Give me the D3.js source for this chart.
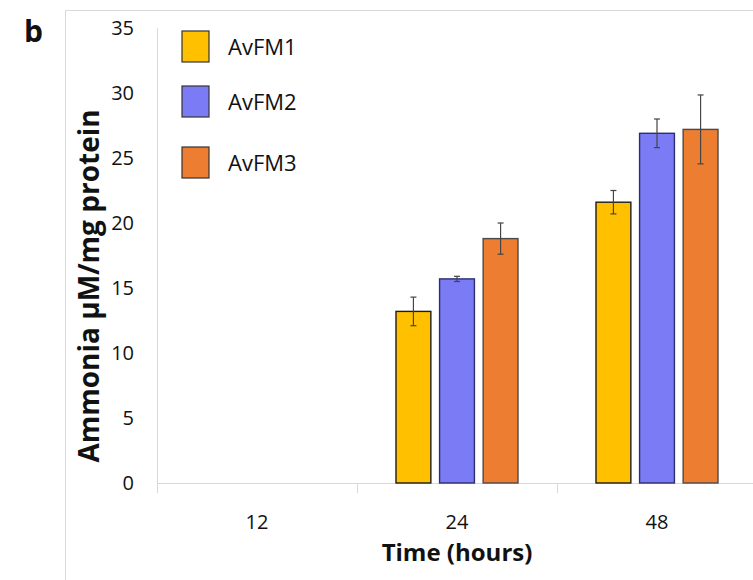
<!DOCTYPE html>
<html>
<head>
<meta charset="utf-8">
<script src="https://cdn.jsdelivr.net/npm/d3@7"></script>
<style>
  body { margin: 0; background: #fff; }
  svg text { font-family: "Open Sans", sans-serif; fill: #111; }
</style>
</head>
<body>
<div id="chart"></div>
<script>
// data
const hours = ["12", "24", "48"];
const series = ["AvFM1", "AvFM2", "AvFM3"];
const avfm1 = [0, 13.2, 21.6];
const avfm2 = [0, 15.7, 26.9];
const avfm3 = [0, 18.8, 27.2];
const err1 = [0, 1.1, 0.9];
const err2 = [0, 0.2, 1.1];
const err3 = [0, 1.2, 2.65];
const yTicks = [0, 5, 10, 15, 20, 25, 30, 35];

const fills = ["#FFC000", "#7B7BF6", "#ED7D31"],
  strokes = ["#1c1c1c", "#2b2f70", "#4a4a4a"];

const W = 753, H = 580;
const svg = d3.select("#chart").append("svg")
  .attr("width", W).attr("height", H);

// outer frame (only top and left visible)
svg.append("path")
  .attr("d", "M65.5,580 L65.5,10.5 L753,10.5")
  .attr("fill", "none").attr("stroke", "#d9d9d9").attr("stroke-width", 1);

svg.append("text").attr("x", 24).attr("y", 42)
  .style("font-size", "30px").style("font-weight", "bold").text("b");

const pL = 157, pR = 757, pT = 28, pB = 483;

const y = d3.scaleLinear().domain([0, 35]).range([pB, pT]);
const x0 = d3.scaleBand().domain(hours).range([pL, pR]);
const x1 = d3.scaleBand().domain(series).range([39, 161]).paddingInner(0.2);

// y axis
svg.append("line").attr("x1", pL + 0.5).attr("x2", pL + 0.5)
  .attr("y1", pT).attr("y2", pB + 10)
  .attr("stroke", "#d9d9d9");
svg.selectAll(".ytl").data(yTicks).enter().append("text")
  .attr("class", "ytl")
  .attr("x", 134).attr("y", d => y(d)).attr("dy", "0.35em")
  .attr("text-anchor", "end")
  .style("font-size", "20px").style("fill", "#111")
  .text(d => d);

// x axis
svg.append("line").attr("x1", pL).attr("x2", W)
  .attr("y1", pB + 0.5).attr("y2", pB + 0.5)
  .attr("stroke", "#d9d9d9");
svg.selectAll(".xtk").data(hours.slice(1)).enter().append("line")
  .attr("x1", d => Math.round(x0(d)) + 0.5).attr("x2", d => Math.round(x0(d)) + 0.5)
  .attr("y1", pB).attr("y2", pB + 10)
  .attr("stroke", "#d9d9d9");
svg.selectAll(".xtl").data(hours).enter().append("text")
  .attr("x", d => x0(d) + x0.bandwidth() / 2).attr("y", 522).attr("dy", "0.35em")
  .attr("text-anchor", "middle")
  .style("font-size", "20px").style("fill", "#111")
  .text(d => d);

svg.append("text").attr("x", 457).attr("y", 553).attr("dy", "0.35em")
  .attr("text-anchor", "middle")
  .style("font-size", "24px").style("font-weight", "bold")
  .text("Time (hours)");

svg.append("text")
  .attr("transform", "translate(89,286) rotate(-90)")
  .attr("dy", "0.35em").attr("text-anchor", "middle")
  .style("font-size", "28px").style("font-weight", "bold")
  .text("Ammonia µM/mg protein");

// bars
const vals = [avfm1, avfm2, avfm3], errs = [err1, err2, err3];
const rows = [];
hours.forEach((h, i) => series.forEach((s, j) => {
  rows.push({ h: h, s: s, j: j, v: vals[j][i], e: errs[j][i] });
}));
const shown = rows.filter(d => d.v > 0);

const g = svg.selectAll(".bar").data(shown).enter().append("g")
  .attr("transform", d => "translate(" + (x0(d.h) + x1(d.s)) + ",0)");
g.append("rect")
  .attr("x", 0).attr("width", x1.bandwidth())
  .attr("y", d => y(d.v)).attr("height", d => y(0) - y(d.v))
  .attr("fill", d => fills[d.j])
  .attr("stroke", d => strokes[d.j]).attr("stroke-width", 1.4);

// error bars
const cx = x1.bandwidth() / 2;
g.append("line")
  .attr("x1", cx).attr("x2", cx)
  .attr("y1", d => y(d.v + d.e)).attr("y2", d => y(d.v - d.e))
  .attr("stroke", "#444").attr("stroke-width", 1.2);
g.selectAll(".cap").data(d => [d.v + d.e, d.v - d.e]).enter().append("line")
  .attr("x1", cx - 3).attr("x2", cx + 3)
  .attr("y1", d => y(d)).attr("y2", d => y(d))
  .attr("stroke", "#444").attr("stroke-width", 1.2);

// legend
const legY = [31, 86, 147];
const lg = svg.selectAll(".leg").data(series).enter().append("g")
  .attr("transform", (d, i) => "translate(182," + legY[i] + ")");
lg.append("rect").attr("width", 27).attr("height", 31)
  .attr("fill", (d, i) => fills[i]).attr("stroke", "#333").attr("stroke-width", 1.2);
lg.append("text").attr("x", 46).attr("y", 16).attr("dy", "0.35em")
  .style("font-size", "22px").style("fill", "#111")
  .text(d => d);
</script>
</body>
</html>
